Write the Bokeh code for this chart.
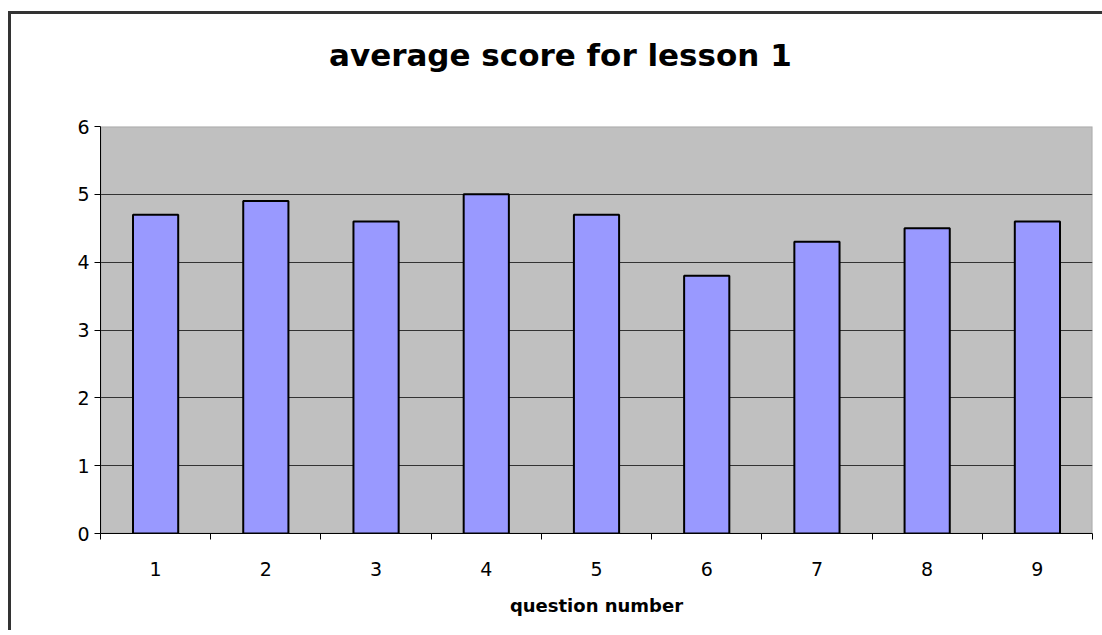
from bokeh.plotting import figure
from bokeh.layouts import column
from bokeh.models import FixedTicker, Range1d, ColumnDataSource, BoxAnnotation, Div
from bokeh.embed import file_html
from bokeh.resources import INLINE

questions = [1, 2, 3, 4, 5, 6, 7, 8, 9]
question_labels = ["1", "2", "3", "4", "5", "6", "7", "8", "9"]
scores = [4.7, 4.9, 4.6, 5.0, 4.7, 3.8, 4.3, 4.5, 4.6]
y_ticks = [0, 1, 2, 3, 4, 5, 6]
title_text = "average score for lesson 1"

FONT = "DejaVu Sans"

title_div = Div(
    text=('<div style="font-family: \'DejaVu Sans\'; font-weight: bold; font-size: 31px; '
          'color: black; white-space: nowrap; padding-top: 18px; padding-left: 313px; '
          'line-height: 36px;">' + title_text + '</div>'),
    width=1084, height=82)

p = figure(width=1084, height=524, output_backend="svg", toolbar_location=None,
           x_range=Range1d(0.5, 9.5), y_range=Range1d(0, 6),
           min_border_left=89, min_border_right=3, min_border_top=20, min_border_bottom=97)

p.background_fill_color = "#C0C0C0"
p.border_fill_color = "white"
p.outline_line_color = None

frame_box = BoxAnnotation(level="underlay", fill_alpha=0, line_color="#808080", line_width=2)
p.add_layout(frame_box)

src = ColumnDataSource(dict(x=questions, top=scores))
p.vbar(x="x", top="top", width=0.41, bottom=0, source=src,
       fill_color="#9999FF", line_color="black", line_width=2)

# x axis
p.xaxis.ticker = FixedTicker(ticks=questions, minor_ticks=[q - 0.5 for q in questions] + [9.5])
p.xaxis.major_label_overrides = {q: l for q, l in zip(questions, question_labels)}
p.xaxis.major_tick_out = 0
p.xaxis.major_tick_in = 0
p.xaxis.minor_tick_out = 6
p.xaxis.minor_tick_in = 0
p.xaxis.minor_tick_line_color = "black"
p.xaxis.axis_line_color = "black"
p.xaxis.axis_line_width = 1
p.xaxis.major_label_standoff = 22
p.xaxis.major_label_text_font = FONT
p.xaxis.major_label_text_font_size = "19px"
p.xaxis.major_label_text_color = "black"
p.xaxis.axis_label = "question number"
p.xaxis.axis_label_text_font = FONT
p.xaxis.axis_label_text_font_size = "18px"
p.xaxis.axis_label_text_font_style = "bold"
p.xaxis.axis_label_text_color = "black"
p.xaxis.axis_label_standoff = 16

# y axis
p.yaxis.ticker = FixedTicker(ticks=y_ticks, minor_ticks=[])
p.yaxis.major_tick_out = 6
p.yaxis.major_tick_in = 0
p.yaxis.major_tick_line_color = "black"
p.yaxis.axis_line_color = "black"
p.yaxis.major_label_standoff = 5
p.yaxis.major_label_text_font = FONT
p.yaxis.major_label_text_font_size = "19px"
p.yaxis.major_label_text_color = "black"

p.xgrid.grid_line_color = None
p.ygrid.grid_line_color = "#333333"
p.ygrid.grid_line_width = 1
p.ygrid.grid_line_alpha = 1.0

layout = column(title_div, p, spacing=0)
layout.styles = {"margin-left": "8px", "margin-top": "11px", "background-color": "white",
                 "border-top": "3px solid #333333", "border-left": "3px solid #333333"}

open("out.html", "w").write(file_html(layout, INLINE))
